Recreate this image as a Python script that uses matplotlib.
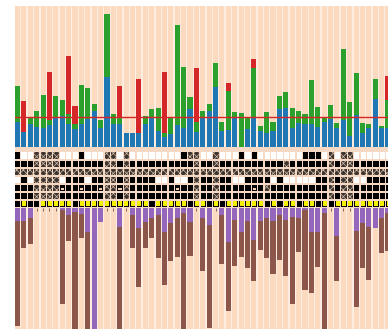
import matplotlib
matplotlib.use("Agg")
import matplotlib.pyplot as plt
from matplotlib.patches import Rectangle
import numpy as np

# ---- top panel: stacked counts per sample ----
blue = [25.7, 15.7, 23.3, 20, 19, 22.3, 29, 31.7, 23, 18,
        23.3, 28, 36.3, 19, 70, 23.3, 23.3, 14.7, 14.7, 14.7,
        23.3, 30, 16.7, 10, 13, 22.3, 19, 38, 15.7, 30,
        36.3, 60, 16.7, 17.3, 29, 0, 18, 29, 16.7, 14,
        16.7, 38, 39, 19.7, 24, 23.3, 23.3, 20.7, 25, 28,
        19, 27.3, 11.3, 32.3, 14.7, 19, 48, 19, 19]
green = [35.7, 0, 6.7, 16.3, 33.3, 5, 22, 15.7, 10.7, 5,
         39, 31.3, 6.7, 8.3, 63.3, 9.7, 7.3, 0, 0, 0,
         8.3, 8, 22.3, 4.7, 17.7, 100, 61.7, 12, 10, 6.3,
         6.7, 24, 9, 39.3, 6, 34, 11, 50, 5, 21,
         8.3, 13.3, 16.7, 19.3, 12.3, 9.7, 44, 19.3, 4, 14.3,
         5, 70.7, 33.7, 41.7, 9.3, 4, 20.3, 2.7, 28]
red = [0, 30.7, 0, 0, 0, 48.3, 0, 0, 58, 18.3,
       0, 0, 0, 0, 0, 0, 30.7, 0, 0, 54,
       0, 0, 0, 61, 0, 0, 0, 0, 53.3, 0,
       0, 0, 0, 8, 0, 0, 0, 9, 0, 0,
       0, 0, 0, 0, 0, 0, 0, 0, 0, 0,
       0, 0, 0, 0, 0, 0, 0, 0, 24]
threshold = 30

# ---- bottom panel: drawn downwards ----
purple = [12.4, 12.4, 10, 0, 0, 0, 0, 1.7, 6.7, 3.4,
          5.7, 23.4, 130, 13.4, 0, 0, 18.4, 0, 6.7, 20,
          13.4, 10, 6.7, 23.4, 15, 10, 4.4, 13.4, 0, 10,
          16.7, 0, 6.7, 33.4, 11.7, 23.4, 12.7, 31.7, 12.7, 10,
          12.7, 6.7, 11.7, 8.4, 10, 1.7, 24, 23.4, 5, 0,
          27.4, 0, 0, 22.4, 15, 18.4, 20, 10, 5]
brown = [105.3, 27, 25.7, 0, 0, 0, 0, 94.3, 25.7, 126,
         24.3, 110, 0, 0, 0, 0, 115, 0, 33.3, 58.4,
         26.6, 20, 43.3, 53.3, 37.4, 39, 125, 34.3, 0, 52.7,
         103, 0, 49, 69.3, 45.7, 25, 46.7, 41, 29, 40,
         53.3, 45, 55.7, 87.6, 34, 80, 60.4, 35.6, 125, 0,
         45.3, 0, 0, 76, 45, 53.3, 0, 35, 38]

# ---- status grid: b=black w=white x=hatched p=black with beige mark ----
grid_rows = [
    "bwwxxxxwww" "bwwwxxwxww" "wwwwwwbxxw" "wxwwwbwbww" "wwwwwbbbwx" "wxxwwwwww",
    "bbbxxxxbbb" "bbbbxxbxbb" "bbbbbbbbxb" "bxbbbbbbbb" "bbxbbbbbbx" "bxxbbbbbb",
    "x" * 59,
    "wbwxxxxwbb" "bwbbxxbxbb" "bbwwbwwbxb" "bxbbwwbbbb" "wbwwwwwbbx" "bxxwwbbbb",
    "bbbxxxxpbb" "pbbpxxpxbb" "bbbbbpbbxb" "bxbbbbbpbx" "bbbbbbbbbx" "bxxbbbbbb",
    "bbbxxxxbbb" "bbbbxxbxbb" "bbbbbbbbxb" "bxbbbbbbbb" "bbbbbbbbbx" "bxxbbbbbb",
]
# flag row: y=yellow, b=black
flag_row = "bybbyyyyyb" "yyyyyyyyyy" "ybyyyyybyy" "bybyyyyyyb" "ybyybyybyb" "yyyyyyyyy"

C_BLUE, C_GREEN, C_RED = "#1f77b4", "#2ca02c", "#d62728"
C_PURPLE, C_BROWN = "#9467bd", "#8c564b"
PEACH, GAP = "#fbdabf", "#fdece0"

n = len(blue)
x = np.arange(n)
bw = 0.8
W, H = 388, 329
pitch = 6.4

fig = plt.figure(figsize=(W / 100, H / 100), dpi=100)
fig.patch.set_facecolor("white")
plt.rcParams["hatch.linewidth"] = 0.5


def px_axes(x0, y0, x1, y1):
    return fig.add_axes([x0 / W, 1 - y1 / H, (x1 - x0) / W, (y1 - y0) / H])


xlim = (-bw / 2, -bw / 2 + (W - 15) / pitch)

ax_top = px_axes(15, 6, W, 147.3)
ax_mid = px_axes(15, 147.3, W, 208.3)
ax_bot = px_axes(15, 208.3, W, H)

for ax in (ax_top, ax_mid, ax_bot):
    ax.set_xlim(*xlim)
    for s in ax.spines.values():
        s.set_visible(False)
    ax.set_yticks([])

# top panel
ax_top.set_facecolor(GAP)
for i in x:
    ax_top.axvspan(i - bw / 2, i + bw / 2, color=PEACH, lw=0, zorder=0)
b = np.array(blue)
g = np.array(green)
ax_top.bar(x, b, width=bw, color=C_BLUE, zorder=2)
ax_top.bar(x, g, bottom=b, width=bw, color=C_GREEN, zorder=2)
ax_top.bar(x, red, bottom=b + g, width=bw, color=C_RED, zorder=2)
ax_top.axhline(threshold, color=C_RED, lw=1.0, zorder=3)
ax_top.set_ylim(0, 141.3)
ax_top.set_xticks(x)
ax_top.tick_params(axis="x", length=2.5, width=0.6, color="#6b5a50",
                   labelbottom=False)

# status grid
ax_mid.set_facecolor("#f6d9c4")
ax_mid.set_ylim(6.57, -1.02)
ax_mid.set_xticks([])
ch = 0.75
for r, row in enumerate(grid_rows):
    for i, c in enumerate(row):
        x0, y0 = i - bw / 2, r - ch / 2
        if c == "x":
            ax_mid.add_patch(Rectangle((x0, y0), bw, ch, facecolor="#3e3532",
                                       edgecolor="#d9c0a6", hatch="xxxxx", lw=0))
        elif c == "w":
            ax_mid.add_patch(Rectangle((x0, y0), bw, ch, facecolor="white", lw=0))
        else:
            ax_mid.add_patch(Rectangle((x0, y0), bw, ch, facecolor="black", lw=0))
            if c == "p":
                ax_mid.add_patch(Rectangle((i - 0.25, r), 0.5, 0.3,
                                           facecolor="#f2cfae", lw=0))
r = len(grid_rows)
for i, c in enumerate(flag_row):
    ax_mid.add_patch(Rectangle((i - bw / 2, r - ch / 2), bw, ch,
                               facecolor="black", lw=0))
    if c == "y":
        ax_mid.add_patch(Rectangle((i - 0.32, r - 0.28), 0.64, 0.56,
                                   facecolor="#f4ee00", lw=0))

# bottom panel
ax_bot.set_facecolor(GAP)
for i in x:
    ax_bot.axvspan(i - bw / 2, i + bw / 2, color=PEACH, lw=0, zorder=0)
p = np.array(purple)
ax_bot.bar(x, p, width=bw, color=C_PURPLE, zorder=2)
ax_bot.bar(x, brown, bottom=p, width=bw, color=C_BROWN, zorder=2)
ax_bot.set_ylim(120.7, 0)
ax_bot.xaxis.tick_top()
ax_bot.set_xticks(x)
ax_bot.tick_params(axis="x", direction="in", length=2.5, width=0.6,
                   color="#6b5a50", labeltop=False, labelbottom=False)

fig.savefig("out.png", dpi=100)
